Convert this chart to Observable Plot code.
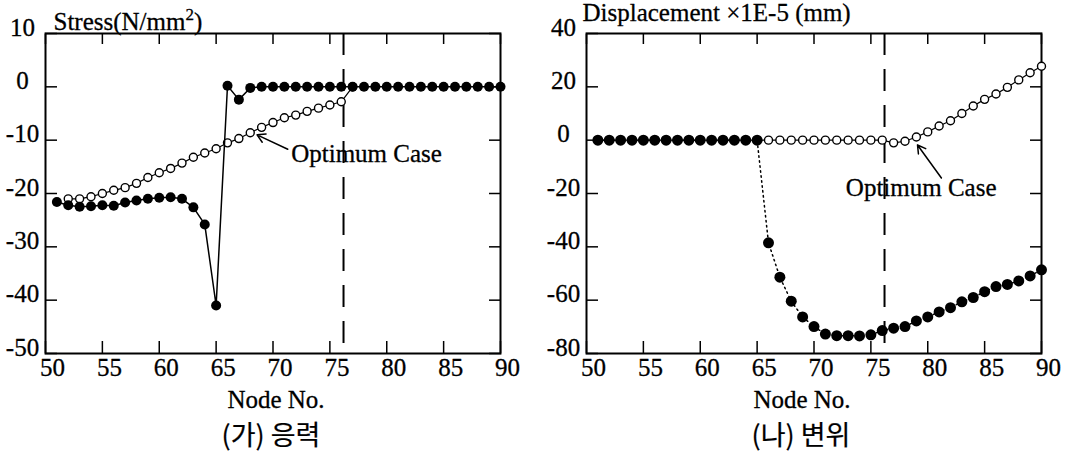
<!DOCTYPE html>
<html><head><meta charset="utf-8">
<script src="https://cdn.jsdelivr.net/npm/d3@7"></script>
<script src="https://cdn.jsdelivr.net/npm/@observablehq/plot@0.6"></script>
<style>
body{margin:0;background:#fff;}
#wrap{display:flex;width:1067px;height:456px;overflow:hidden;}
</style></head><body><div id="wrap"></div>
<script>
// ---- data ----
const nodes = [51,52,53,54,55,56,57,58,59,60,61,62,63,64,65,66,67,68,69,70,71,72,73,74,75,76,77,78,79,80,81,82,83,84,85,86,87,88,89,90];
const xTicks = [50,55,60,65,70,75,80,85,90];
const stressTicks = [10,0,-10,-20,-30,-40,-50];
const dispTicks = [40,20,0,-20,-40,-60,-80];
const limitNode = 76.2;

// (가) stress: initial case (filled)
const stressBase = [-21.6,-22.2,-22.5,-22.4,-22.2,-22.3,-21.7,-21.3,-21.0,-20.8,-20.7,-21.0,-22.6,-25.8,-41.0,
  0.2,-2.4,-0.2,0,0,0,0,0,0,0,0,0,0,0,0,0,0,0,0,0,0,0,0,0,0];
// (가) stress: optimum case (open)
const stressOptNodes = [52,53,54,55,56,57,58,59,60,61,62,63,64,65,66,67,68,69,70,71,72,73,74,75,76,77];
const stressOpt = [-21.0,-21.0,-20.6,-20.0,-19.4,-18.9,-18.1,-17.0,-16.1,-15.3,-14.3,-13.2,-12.4,-11.6,
  -10.5,-9.7,-8.6,-7.6,-6.7,-5.8,-5.3,-4.6,-4.0,-3.4,-2.8,0];

// (나) displacement: initial case (filled)
const dispBase = [0,0,0,0,0,0,0,0,0,0,0,0,0,0,0,
  -38.5,-51.4,-60.4,-66.3,-69.9,-72.7,-73.3,-73.3,-73.4,-73.0,-71.4,-70.5,-69.9,-67.8,-66.3,
  -64.4,-62.8,-60.6,-59.0,-56.8,-54.9,-54.1,-52.8,-50.9,-48.6];
// (나) displacement: optimum case (open)
const dispOpt = [0,0,0,0,0,0,0,0,0,0,0,0,0,0,0,
  0,0,0,0,0,0,0,0,0,0,0,-1.0,-0.4,1.2,3.1,5.3,7.3,10.0,12.8,15.3,17.3,19.8,22.6,25.3,27.7];

// annotations (data units)
const stressNote = {label: "Optimum Case", x: 71.6, y: -12.6, ax1: 71.3, ay1: -11.7, ax2: 68.6, ay2: -9.0};
const dispNote = {label: "Optimum Case", x: 72.8, y: -18.0, ax1: 81.2, ay1: -14.2, ax2: 79.1, ay2: -1.8};

const titles = ["Stress(N/mm2)", "Displacement ×1E-5 (mm)"];
const xLabel = "Node No.";
const captions = ["(가) 응력", "(나) 변위"];

// ---- build ----
const FONT = "Liberation Serif";
const FS = 25;
const ink = {fill: "black", stroke: "black", strokeWidth: 0.3, fontSize: FS};
const rows = (xs, ys) => xs.map((x, i) => ({x, y: ys[i]}));

function frameMarks(yTicks) {
  return [
    Plot.axisX({anchor: "bottom", ticks: xTicks, tickSize: 12, dy: -12, fill: "none", label: null, strokeWidth: 1.5}),
    Plot.axisX({anchor: "top", ticks: xTicks, tickSize: 10, dy: 10, fill: "none", label: null, strokeWidth: 1.5}),
    Plot.axisY({anchor: "left", ticks: yTicks, tickSize: 12, dx: 12, fill: "none", label: null, strokeWidth: 1.5}),
    Plot.axisY({anchor: "right", ticks: yTicks, tickSize: 12, dx: -12, fill: "none", label: null, strokeWidth: 1.5}),
    Plot.text(xTicks, {x: d => d, frameAnchor: "bottom", lineAnchor: "middle", dx: 7, dy: 14, ...ink}),
    Plot.text(yTicks, {y: d => d, frameAnchor: "left", lineAnchor: "middle", textAnchor: "middle", dx: -23, dy: -6, ...ink}),
    Plot.frame({stroke: "black", strokeWidth: 2}),
    Plot.ruleX([limitNode], {stroke: "black", strokeWidth: 2, strokeDasharray: "22,14"})
  ];
}

const style = {fontFamily: FONT, fontSize: FS + "px", color: "black", background: "white", overflow: "visible"};

const left = Plot.plot({
  width: 533, height: 456,
  marginLeft: 45, marginRight: 33, marginTop: 33, marginBottom: 103,
  x: {domain: [50, 90]},
  y: {domain: [-50, 10]},
  style,
  marks: [
    ...frameMarks(stressTicks),
    Plot.line(rows(stressOptNodes, stressOpt), {x: "x", y: "y", stroke: "black", strokeWidth: 1.2}),
    Plot.dot(rows(stressOptNodes, stressOpt), {x: "x", y: "y", r: 4, fill: "white", stroke: "black", strokeWidth: 1.4}),
    Plot.line(rows(nodes, stressBase), {x: "x", y: "y", stroke: "black", strokeWidth: 1.5}),
    Plot.dot(rows(nodes, stressBase), {x: "x", y: "y", r: 5, fill: "black"}),
    Plot.arrow([stressNote], {x1: "ax1", y1: "ay1", x2: "ax2", y2: "ay2", stroke: "black", strokeWidth: 1.5, headLength: 9}),
    Plot.text([stressNote], {x: "x", y: "y", text: "label", textAnchor: "start", ...ink}),
    Plot.text([titles[0]], {frameAnchor: "top-left", lineAnchor: "middle", dx: 8, dy: -12, textAnchor: "start", ...ink, className: "stress-title"}),
    Plot.text([xLabel], {frameAnchor: "bottom", lineAnchor: "middle", dx: 3, dy: 46, ...ink}),
    Plot.text([captions[0]], {frameAnchor: "bottom", lineAnchor: "middle", dx: -2, dy: 83, ...ink, strokeWidth: 0.2, fontFamily: "Noto Sans CJK KR", fontSize: 27})
  ]
});

const right = Plot.plot({
  width: 534, height: 456,
  marginLeft: 53, marginRight: 26, marginTop: 33, marginBottom: 103,
  x: {domain: [50, 90]},
  y: {domain: [-80, 40]},
  style,
  marks: [
    ...frameMarks(dispTicks),
    Plot.line(rows(nodes, dispBase), {x: "x", y: "y", stroke: "black", strokeWidth: 1.5, strokeDasharray: "1.5,3.5"}),
    Plot.line(rows(nodes, dispOpt), {x: "x", y: "y", stroke: "black", strokeWidth: 1.2}),
    Plot.dot(rows(nodes, dispOpt), {x: "x", y: "y", r: 4, fill: "white", stroke: "black", strokeWidth: 1.4}),
    Plot.dot(rows(nodes, dispBase), {x: "x", y: "y", r: 5.5, fill: "black"}),
    Plot.arrow([dispNote], {x1: "ax1", y1: "ay1", x2: "ax2", y2: "ay2", stroke: "black", strokeWidth: 1.5, headLength: 9}),
    Plot.text([dispNote], {x: "x", y: "y", text: "label", textAnchor: "start", ...ink}),
    Plot.text([titles[1]], {frameAnchor: "top-left", lineAnchor: "middle", dx: -4, dy: -21, textAnchor: "start", ...ink}),
    Plot.text([xLabel], {frameAnchor: "bottom", lineAnchor: "middle", dx: -12, dy: 46, ...ink}),
    Plot.text([captions[1]], {frameAnchor: "bottom", lineAnchor: "middle", dx: -13, dy: 83, ...ink, strokeWidth: 0.2, fontFamily: "Noto Sans CJK KR", fontSize: 27})
  ]
});

// raise the "2" of mm2 as a real superscript
left.querySelectorAll(".stress-title text").forEach(t => {
  const s = t.textContent;
  if (s.endsWith("2)")) {
    t.textContent = "";
    const a = document.createElementNS("http://www.w3.org/2000/svg", "tspan");
    a.textContent = s.slice(0, -2);
    const b = document.createElementNS("http://www.w3.org/2000/svg", "tspan");
    b.textContent = "2"; b.setAttribute("font-size", "17"); b.setAttribute("dy", "-10");
    const c = document.createElementNS("http://www.w3.org/2000/svg", "tspan");
    c.textContent = ")"; c.setAttribute("dy", "10");
    t.append(a, b, c);
  }
});

document.getElementById("wrap").append(left, right);
</script>
</body></html>
